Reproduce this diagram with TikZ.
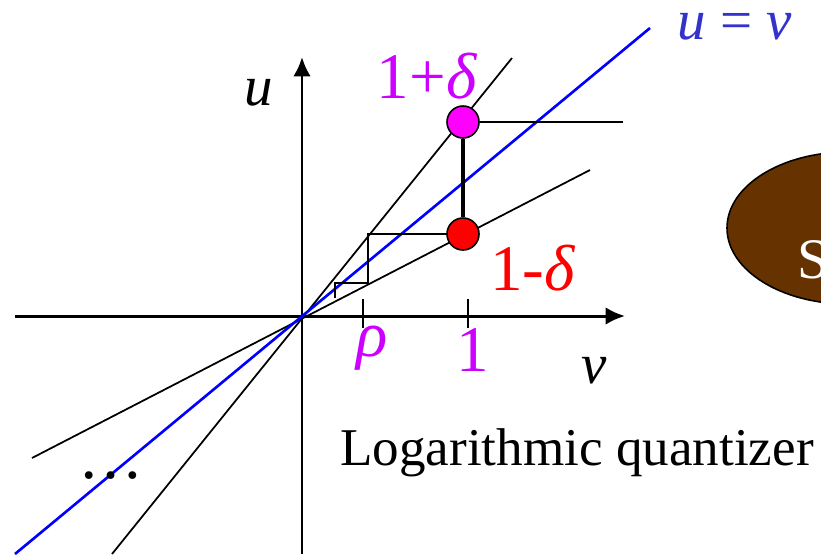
\documentclass[tikz,border=0pt]{standalone}
\usepackage{fontspec}
\setmainfont{Liberation Serif}
\usetikzlibrary{arrows.meta}

\definecolor{qmagenta}{RGB}{255,0,255}
\definecolor{qviolet}{RGB}{204,0,255}
\definecolor{qblue}{RGB}{51,51,204}
\definecolor{qbrown}{RGB}{102,51,0}

\tikzset{
  axisline/.style={line width=0.85pt, -{Latex[length=5.5pt,width=5pt]}},
  ray/.style={line width=0.5pt},
  level/.style={circle, draw=black, line width=0.45pt, minimum size=0.32cm, inner sep=0pt},
  biglbl/.style={font=\fontsize{18.5}{20}\selectfont, inner sep=0pt, anchor=base},
  varlbl/.style={font=\fontsize{16.2}{18}\selectfont, inner sep=0pt, anchor=base}
}

\begin{document}
\begin{tikzpicture}[x=0.01cm, y=-0.01cm]
    \useasboundingbox (0,0) rectangle (821,554);
    \clip (0,0) rectangle (821,554);

    % Brown shape on the right, cut off by the edge
    \draw[fill=qbrown, line width=0.45pt] (848,228) ellipse [x radius=121, y radius=76];
    \node[font=\fontsize{16.3}{18}\selectfont, text=white, inner sep=0pt, anchor=base west] (sectxt) at (797,278) {S};

    % Points of the picture
    \coordinate (O) at (302,316);
    \coordinate (vstart) at (15,316);
    \coordinate (vend) at (625,316);
    \coordinate (ustart) at (302,554);
    \coordinate (uend) at (302,57);
    \coordinate (steepA) at (112,554);
    \coordinate (steepB) at (512,58);
    \coordinate (flatA) at (32,458);
    \coordinate (flatB) at (590,170);
    \coordinate (diagA) at (15,554);
    \coordinate (diagB) at (650,28);

    % Axes
    \draw[axisline] (vstart) -- (vend);
    \draw[axisline] (ustart) -- (uend);

    % Tick marks at rho and 1
    \foreach \x in {363,468} {
      \draw[line width=0.85pt] (\x,299) -- (\x,328);
    }

    % Sector rays through the origin
    \draw[ray] (steepA) -- (steepB);
    \draw[ray] (flatA) -- (flatB);
    % Line u = v
    \draw[blue, line width=0.75pt] (diagA) -- (diagB);

    % Quantization staircase
    \coordinate (st1) at (368,234);
    \coordinate (st2) at (368,283);
    \coordinate (st3) at (335,283);
    \coordinate (st4) at (335,298);
    \draw[line width=0.75pt] (463,234) -- (st1) -- (st2) -- (st3) -- (st4);

    % Levels 1+delta and 1-delta
    \node[level, fill=qmagenta] (hi) at (463,122) {};
    \node[level, fill=red] (lo) at (463,234) {};
    \draw[line width=0.95pt] (hi) -- (lo);
    \coordinate (hiend) at (623,122);
    \draw[ray] (hi) -- (hiend);

    % Labels
    \node[biglbl, text=qviolet] (hilbl) at (427,98) {1+\textit{δ}};
    \node[biglbl, text=red] (lolbl) at (533,290) {1-\textit{δ}};
    \node[biglbl, text=qviolet] (rholbl) at (372,356) {\textit{ρ}};
    \node[biglbl, text=qviolet] (onelbl) at (473,371) {1};
    \node[varlbl] (ulbl) at (259,105) {\textit{u}};
    \node[varlbl] (vlbl) at (594,383) {\textit{v}};
    \node[varlbl, text=qblue] (diaglbl) at (735,39) {\textit{u} = \textit{v}};
    \node[biglbl] (dots) at (111,478) {…};
    \node[font=\fontsize{15.1}{17}\selectfont, inner sep=0pt, anchor=base] (title) at (577,465) {Logarithmic quantizer};
\end{tikzpicture}
\end{document}
